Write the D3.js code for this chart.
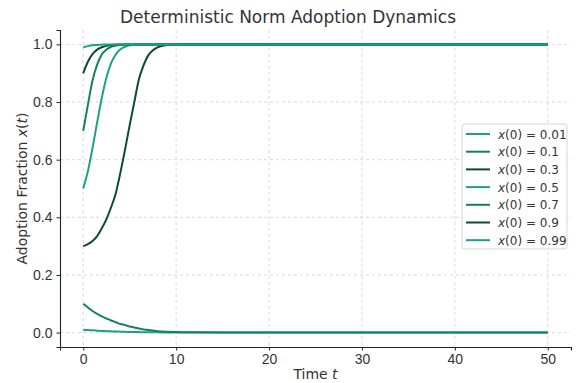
<!DOCTYPE html>
<html>
<head>
<meta charset="utf-8">
<script src="https://cdn.jsdelivr.net/npm/d3@7"></script>
<style>
  body { margin: 0; background: #fff; }
  svg { font-family: "DejaVu Sans", sans-serif; }
  .grid line { stroke: #d0d0d0; stroke-dasharray: 3,3; stroke-width: 0.8; }
  .axis text { font-size: 14px; fill: #333; }
  .axis path, .axis line { stroke: #222; }
</style>
</head>
<body>
<svg id="chart" width="576" height="383"></svg>
<script>
// time samples and the read-off curves for each starting value
var times = [0, 0.5, 1, 1.5, 2, 2.5, 3, 3.5, 4, 4.5, 5, 5.5, 6, 6.5, 7, 7.5, 8, 9, 10, 12, 15, 20, 30, 40, 50];

var x001 = [0.010, 0.0088, 0.0077, 0.0067, 0.0058, 0.0050, 0.0043, 0.0037, 0.0032, 0.0027, 0.0023, 0.0020, 0.0017, 0.0014, 0.0012, 0.0010, 0.0008, 0.0006, 0.0004, 0.0002, 0.0001, 0, 0, 0, 0];
var x01  = [0.100, 0.087, 0.075, 0.065, 0.056, 0.049, 0.042, 0.036, 0.030, 0.026, 0.021, 0.018, 0.014, 0.011, 0.009, 0.007, 0.005, 0.003, 0.002, 0.001, 0.0003, 0, 0, 0, 0];
var x03  = [0.300, 0.307, 0.318, 0.335, 0.362, 0.394, 0.435, 0.483, 0.555, 0.635, 0.720, 0.800, 0.880, 0.928, 0.962, 0.980, 0.990, 0.998, 1, 1, 1, 1, 1, 1, 1];
var x05  = [0.500, 0.560, 0.640, 0.730, 0.815, 0.885, 0.935, 0.965, 0.983, 0.992, 0.997, 0.998, 0.999, 1, 1, 1, 1, 1, 1, 1, 1, 1, 1, 1, 1];
var x07  = [0.700, 0.790, 0.875, 0.930, 0.965, 0.982, 0.992, 0.996, 0.998, 0.999, 1, 1, 1, 1, 1, 1, 1, 1, 1, 1, 1, 1, 1, 1, 1];
var x09  = [0.900, 0.940, 0.966, 0.982, 0.990, 0.995, 0.998, 0.999, 1, 1, 1, 1, 1, 1, 1, 1, 1, 1, 1, 1, 1, 1, 1, 1, 1];
var x099 = [0.990, 0.994, 0.997, 0.998, 0.999, 1, 1, 1, 1, 1, 1, 1, 1, 1, 1, 1, 1, 1, 1, 1, 1, 1, 1, 1, 1];

var labels = ['0.01', '0.1', '0.3', '0.5', '0.7', '0.9', '0.99'];
var seriesValues = [x001, x01, x03, x05, x07, x09, x099];
var colors = ['#1ba27f', '#15805f', '#0c4a36', '#1ba27f', '#15805f', '#0c4a36', '#1ba27f'];

var xTicks = [0, 10, 20, 30, 40, 50];
var yTicks = [0, 0.2, 0.4, 0.6, 0.8, 1.0];

var svg = d3.select('#chart');
var margin = {left: 60, right: 5, top: 30, bottom: 36};
var width = 576 - margin.left - margin.right;
var height = 383 - margin.top - margin.bottom;

var x = d3.scaleLinear().domain([-2.5, 52.5]).range([margin.left, margin.left + width]);
var y = d3.scaleLinear().domain([-0.05, 1.05]).range([margin.top + height, margin.top]);

// grid
svg.append('g').attr('class', 'grid')
  .selectAll('line.v').data(xTicks).enter().append('line')
    .attr('x1', d => x(d)).attr('x2', d => x(d))
    .attr('y1', margin.top).attr('y2', margin.top + height);
svg.select('.grid')
  .selectAll('line.h').data(yTicks).enter().append('line')
    .attr('x1', margin.left).attr('x2', margin.left + width)
    .attr('y1', d => y(d)).attr('y2', d => y(d));

// lines
var line = d3.line()
  .x((d, i) => x(times[i]))
  .y(d => y(d))
  .curve(d3.curveMonotoneX);

svg.append('g')
  .selectAll('path').data(seriesValues).enter().append('path')
    .attr('d', d => line(d))
    .attr('fill', 'none')
    .attr('stroke', (d, i) => colors[i])
    .attr('stroke-width', 2);

// axes
svg.append('g').attr('class', 'axis')
  .attr('transform', `translate(0,${margin.top + height})`)
  .call(d3.axisBottom(x).tickValues(xTicks).tickSizeOuter(0).tickSize(3.5).tickPadding(4));
svg.append('g').attr('class', 'axis')
  .attr('transform', `translate(${margin.left},0)`)
  .call(d3.axisLeft(y).tickValues(yTicks).tickFormat(d3.format('.1f')).tickSizeOuter(0).tickSize(3.5).tickPadding(4));
svg.selectAll('.axis .domain').attr('stroke-width', 1.1);

// title and labels
svg.append('text')
  .attr('x', 288).attr('y', 23)
  .attr('text-anchor', 'middle')
  .style('font-size', '17px').style('fill', '#333')
  .text('Deterministic Norm Adoption Dynamics');

var xl = svg.append('text')
  .attr('x', x(25)).attr('y', 379)
  .attr('text-anchor', 'middle')
  .style('font-size', '14px').style('fill', '#333');
xl.append('tspan').text('Time ');
xl.append('tspan').style('font-style', 'italic').text('t');

var yl = svg.append('text')
  .attr('transform', `translate(27,${y(0.5)}) rotate(-90)`)
  .attr('text-anchor', 'middle')
  .style('font-size', '14px').style('fill', '#333');
yl.append('tspan').text('Adoption Fraction ');
yl.append('tspan').style('font-style', 'italic').text('x');
yl.append('tspan').text('(');
yl.append('tspan').style('font-style', 'italic').text('t');
yl.append('tspan').text(')');

// legend
var legend = svg.append('g').attr('transform', 'translate(462,124)');
legend.append('rect')
  .attr('width', 105).attr('height', 125)
  .attr('rx', 3)
  .attr('fill', 'white').attr('fill-opacity', 0.8)
  .attr('stroke', '#d6d6d6');

var rows = legend.selectAll('g.row').data(labels).enter().append('g')
  .attr('transform', (d, i) => `translate(0,${10 + i * 17.7})`);
rows.append('line')
  .attr('x1', 4).attr('x2', 28)
  .attr('stroke', (d, i) => colors[i]).attr('stroke-width', 2);
var lt = rows.append('text')
  .attr('x', 36).attr('y', 4.5)
  .style('font-size', '12px').style('fill', '#333');
lt.append('tspan').style('font-style', 'italic').text('x');
lt.append('tspan').text(d => '(0) = ' + d);
</script>
</body>
</html>
